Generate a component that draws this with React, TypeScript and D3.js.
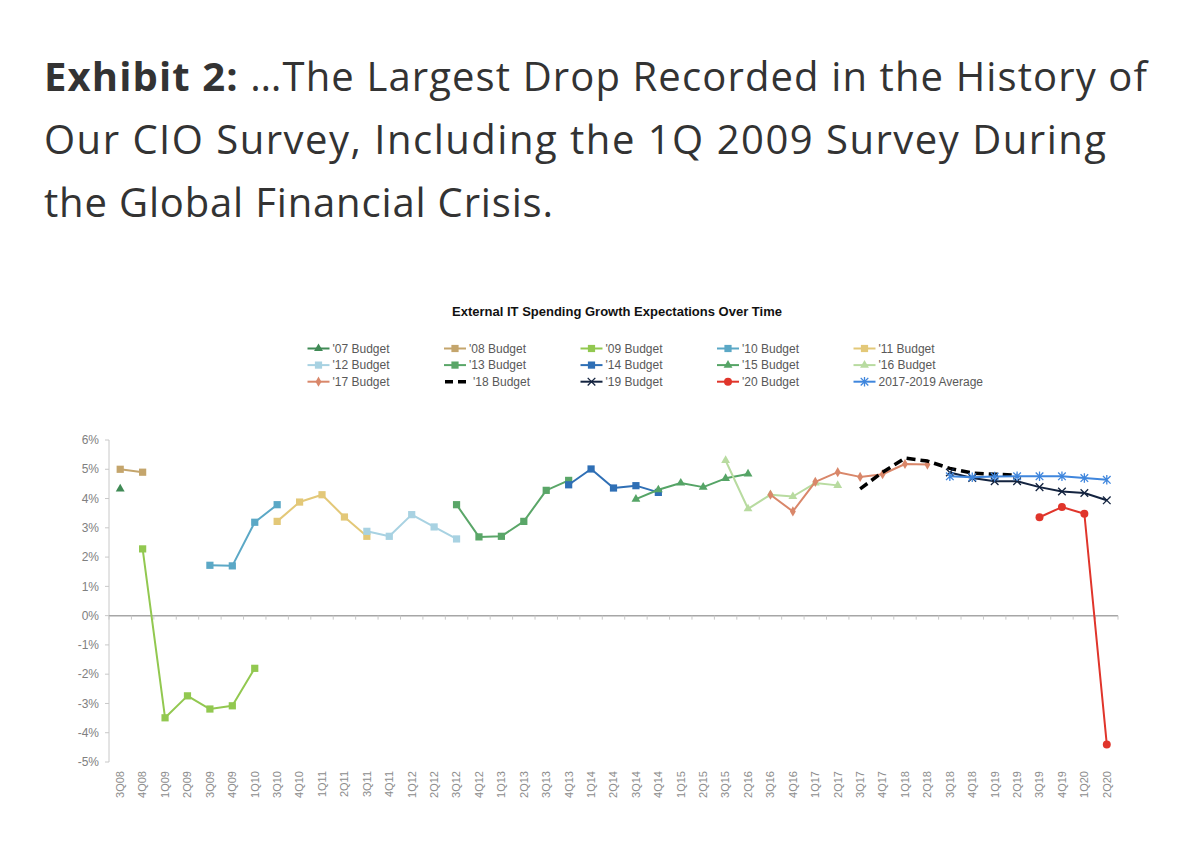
import React from 'react';
import * as d3 from 'd3';

const quarters = [
  '3Q08', '4Q08', '1Q09', '2Q09', '3Q09', '4Q09', '1Q10', '3Q10', '4Q10', '1Q11',
  '2Q11', '3Q11', '4Q11', '1Q12', '2Q12', '3Q12', '4Q12', '1Q13', '2Q13', '3Q13',
  '4Q13', '1Q14', '2Q14', '3Q14', '4Q14', '1Q15', '2Q15', '3Q15', '2Q16', '3Q16',
  '4Q16', '1Q17', '2Q17', '3Q17', '4Q17', '1Q18', '2Q18', '3Q18', '4Q18', '1Q19',
  '2Q19', '3Q19', '4Q19', '1Q20', '2Q20',
];

const yTicks = [6, 5, 4, 3, 2, 1, 0, -1, -2, -3, -4, -5];

// each budget series starts at a quarter and runs over consecutive categories
const budget07 = [4.33];
const budget08 = [5.0, 4.9];
const budget09 = [2.28, -3.49, -2.74, -3.19, -3.08, -1.8];
const budget10 = [1.72, 1.7, 3.19, 3.79];
const budget11 = [3.22, 3.88, 4.13, 3.37, 2.71];
const budget12 = [2.88, 2.71, 3.45, 3.03, 2.62];
const budget13 = [3.79, 2.69, 2.71, 3.22, 4.28, 4.62];
const budget14 = [4.47, 5.01, 4.36, 4.44, 4.21];
const budget15 = [3.98, 4.3, 4.53, 4.39, 4.69, 4.84];
const budget16 = [5.3, 3.65, 4.13, 4.07, 4.53, 4.45];
const budget17 = [4.13, 3.56, 4.57, 4.9, 4.74, 4.83, 5.18, 5.16];
const budget18 = [4.33, 4.9, 5.38, 5.28, 5.03, 4.87, 4.83, 4.8];
const budget19 = [4.89, 4.7, 4.59, 4.59, 4.39, 4.24, 4.19, 3.94];
const average1719 = [4.76, 4.73, 4.75, 4.76, 4.76, 4.76, 4.7, 4.64];
const budget20 = [3.36, 3.71, 3.48, -4.4];

type Marker = 'triangle' | 'square' | 'diamond' | 'circle' | 'x' | 'asterisk' | 'none';

const series: { name: string; start: string; values: number[]; color: string; marker: Marker; dashed?: boolean }[] = [
  { name: "'07 Budget", start: '3Q08', values: budget07, color: '#3f8a55', marker: 'triangle' },
  { name: "'08 Budget", start: '3Q08', values: budget08, color: '#c4a56c', marker: 'square' },
  { name: "'09 Budget", start: '4Q08', values: budget09, color: '#92c850', marker: 'square' },
  { name: "'10 Budget", start: '3Q09', values: budget10, color: '#5ba8c6', marker: 'square' },
  { name: "'11 Budget", start: '3Q10', values: budget11, color: '#e3c878', marker: 'square' },
  { name: "'12 Budget", start: '3Q11', values: budget12, color: '#a8d2e2', marker: 'square' },
  { name: "'13 Budget", start: '3Q12', values: budget13, color: '#5aa668', marker: 'square' },
  { name: "'14 Budget", start: '4Q13', values: budget14, color: '#2f6fb5', marker: 'square' },
  { name: "'15 Budget", start: '3Q14', values: budget15, color: '#55a466', marker: 'triangle' },
  { name: "'16 Budget", start: '3Q15', values: budget16, color: '#b8dba0', marker: 'triangle' },
  { name: "'17 Budget", start: '3Q16', values: budget17, color: '#d9876a', marker: 'diamond' },
  { name: "'18 Budget", start: '3Q17', values: budget18, color: '#000000', marker: 'none', dashed: true },
  { name: "'19 Budget", start: '3Q18', values: budget19, color: '#13233f', marker: 'x' },
  { name: "'20 Budget", start: '3Q19', values: budget20, color: '#e0352b', marker: 'circle' },
  { name: '2017-2019 Average', start: '3Q18', values: average1719, color: '#3f86dd', marker: 'asterisk' },
];

const titleLines = [
  { bold: 'Exhibit 2:', rest: ' \u2026The Largest Drop Recorded in the History of', width: 1103 },
  { bold: '', rest: 'Our CIO Survey, Including the 1Q 2009 Survey During', width: 1062 },
  { bold: '', rest: 'the Global Financial Crisis.', width: 509 },
];

const chartTitle = 'External IT Spending Growth Expectations Over Time';

function markerPath(kind: Marker): string {
  if (kind === 'triangle') return d3.symbol(d3.symbolTriangle, 34)() || '';
  if (kind === 'square') return d3.symbol(d3.symbolSquare, 52)() || '';
  if (kind === 'diamond') return d3.symbol(d3.symbolDiamond, 30)() || '';
  if (kind === 'circle') return d3.symbol(d3.symbolCircle, 50)() || '';
  const r = 3.8;
  if (kind === 'x') return `M${-r},${-r}L${r},${r}M${-r},${r}L${r},${-r}`;
  if (kind === 'asterisk') return `M${-r},${-r}L${r},${r}M${-r},${r}L${r},${-r}M0,${-r - 1}L0,${r + 1}`;
  return '';
}

function Mark({ kind, color, x, y }: { kind: Marker; color: string; x: number; y: number }) {
  if (kind === 'none') return null;
  const stroked = kind === 'x' || kind === 'asterisk';
  return (
    <path
      d={markerPath(kind)}
      transform={`translate(${x},${y})`}
      fill={stroked ? 'none' : color}
      stroke={stroked ? color : 'none'}
      strokeWidth={stroked ? 1.3 : 0}
    />
  );
}

export default function App() {
  const width = 1200;
  const height = 865;

  const x = d3.scaleBand<string>().domain(quarters).range([109, 1118]);
  const cx = (q: string) => (x(q) ?? 0) + x.bandwidth() / 2;
  const y = d3.scaleLinear().domain([-5, 6]).range([762, 440]);

  const line = d3
    .line<[string, number]>()
    .x((d) => cx(d[0]))
    .y((d) => y(d[1]));

  const points = (s: (typeof series)[number]) => {
    const i0 = quarters.indexOf(s.start);
    return s.values.map((v, i) => [quarters[i0 + i], v] as [string, number]);
  };

  const legendX0 = 307.5;
  const legendDx = 136.5;
  const legendY0 = 348.5;
  const legendDy = 16.6;

  return (
    <div style={{ position: 'absolute', left: 0, top: 0 }}>
      <svg width={width} height={height} style={{ display: 'block', background: '#fff' }}>
        <rect width={width} height={height} fill="#fff" />

        {titleLines.map((l, i) => (
          <text
            key={i}
            x={44}
            y={91 + i * 63}
            fontFamily="'Open Sans', Lato, sans-serif"
            fontSize={40}
            fill="#333"
            textLength={l.width}
            lengthAdjust="spacing"
          >
            {l.bold && <tspan fontWeight="bold">{l.bold}</tspan>}
            <tspan>{l.rest}</tspan>
          </text>
        ))}

        <text
          x={617}
          y={316}
          textAnchor="middle"
          fontFamily="'Liberation Sans', Arial, sans-serif"
          fontWeight="bold"
          fontSize={13}
          fill="#111"
        >
          {chartTitle}
        </text>

        {/* legend */}
        {series.map((s, i) => {
          const col = i % 5;
          const row = Math.floor(i / 5);
          const lx = legendX0 + col * legendDx;
          const ly = legendY0 + row * legendDy;
          return (
            <g key={s.name} transform={`translate(${lx},${ly})`}>
              {s.dashed ? (
                <line x1={1} x2={22} y1={0} y2={0} stroke="#000" strokeWidth={3.5} strokeDasharray="8,5" />
              ) : (
                <line x1={0} x2={22} y1={0} y2={0} stroke={s.color} strokeWidth={2} />
              )}
              <Mark kind={s.marker} color={s.color} x={11} y={0} />
              <text
                x={s.dashed ? 29 : 25}
                y={0}
                dy="0.35em"
                fontFamily="'Liberation Sans', Arial, sans-serif"
                fontSize={12}
                fill="#595959"
              >
                {s.name}
              </text>
            </g>
          );
        })}

        {/* y axis */}
        <line x1={109} x2={109} y1={y(6)} y2={y(-5)} stroke="#c8c8c8" strokeWidth={1} />
        {yTicks.map((t) => (
          <g key={t}>
            <line x1={105} x2={109} y1={y(t)} y2={y(t)} stroke="#c8c8c8" />
            <text
              x={99}
              y={y(t)}
              dy="0.35em"
              textAnchor="end"
              fontFamily="'Liberation Sans', Arial, sans-serif"
              fontSize={12}
              fill="#808080"
            >
              {`${t}%`}
            </text>
          </g>
        ))}

        {/* zero line with category ticks */}
        <line x1={109} x2={1118} y1={y(0)} y2={y(0)} stroke="#a6a6a6" strokeWidth={1.5} />
        {quarters.map((q) => (
          <line key={q} x1={x(q) ?? 0} x2={x(q) ?? 0} y1={y(0)} y2={y(0) + 4} stroke="#c8c8c8" />
        ))}
        <line x1={1118} x2={1118} y1={y(0)} y2={y(0) + 4} stroke="#c8c8c8" />

        {/* category labels */}
        {quarters.map((q) => (
          <text
            key={q}
            transform={`translate(${cx(q)},771) rotate(-90)`}
            textAnchor="end"
            dy="0.35em"
            fontFamily="'Liberation Sans', Arial, sans-serif"
            fontSize={11}
            fill="#8c8c8c"
          >
            {q}
          </text>
        ))}

        {/* series */}
        {series.map((s) => {
          const pts = points(s);
          return (
            <g key={s.name}>
              {pts.length > 1 && (
                <path
                  d={line(pts) || ''}
                  fill="none"
                  stroke={s.color}
                  strokeWidth={s.dashed ? 3.5 : 2}
                  strokeDasharray={s.dashed ? '9,5' : undefined}
                  strokeLinejoin="round"
                />
              )}
              {pts.map((p) => (
                <Mark key={p[0]} kind={s.marker} color={s.color} x={cx(p[0])} y={y(p[1])} />
              ))}
            </g>
          );
        })}
      </svg>
    </div>
  );
}
